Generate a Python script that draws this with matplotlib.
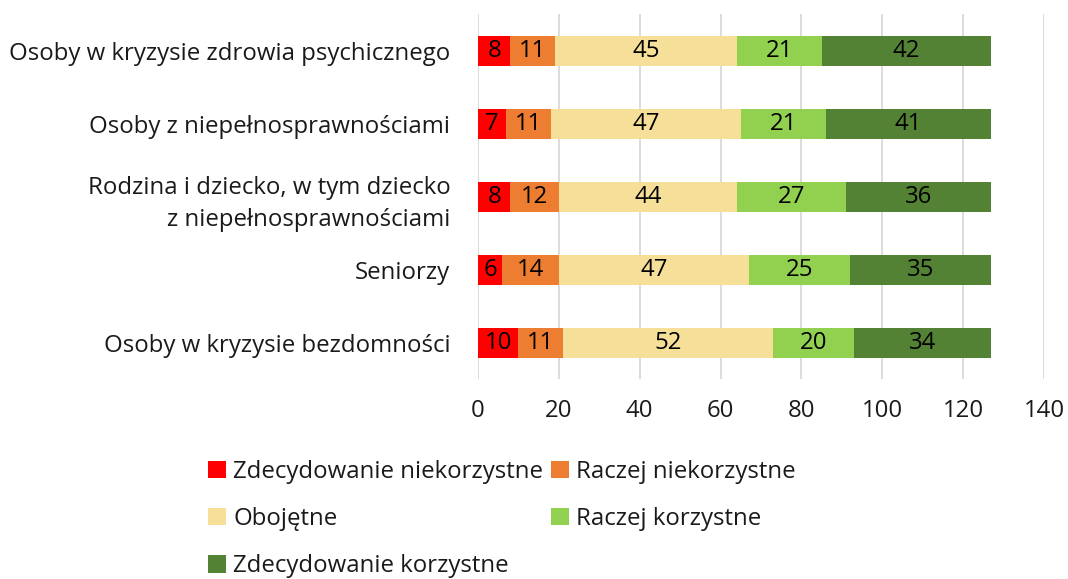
import matplotlib
matplotlib.use("Agg")
import matplotlib.pyplot as plt
from matplotlib.patches import Patch

categories = [
    "Osoby w kryzysie zdrowia psychicznego",
    "Osoby z niepełnosprawnościami",
    "Rodzina i dziecko, w tym dziecko\nz niepełnosprawnościami",
    "Seniorzy",
    "Osoby w kryzysie bezdomności",
]
series_names = [
    "Zdecydowanie niekorzystne",
    "Raczej niekorzystne",
    "Obojętne",
    "Raczej korzystne",
    "Zdecydowanie korzystne",
]
zdec_niekorz = [8, 7, 8, 6, 10]
raczej_niekorz = [11, 11, 12, 14, 11]
obojetne = [45, 47, 44, 47, 52]
raczej_korz = [21, 21, 27, 25, 20]
zdec_korz = [42, 41, 36, 35, 34]
xticks = [0, 20, 40, 60, 80, 100, 120, 140]

colors = ["#FF0000", "#ED7D31", "#F5DF99", "#92D050", "#548235"]
series = [zdec_niekorz, raczej_niekorz, obojetne, raczej_korz, zdec_korz]

FS = 17.3
plt.rcParams['font.family'] = ['Open Sans', 'DejaVu Sans']
fig = plt.figure(figsize=(10.68, 5.79), dpi=100)
ax = fig.add_axes([0.4476, 0.3446, 0.9775 - 0.4476, 0.975 - 0.3446])

y = list(range(len(categories)))
left = [0] * len(categories)
handles = []
for name, vals, col in zip(series_names, series, colors):
    bars = ax.barh(y, vals, left=left, height=0.41, color=col, zorder=3)
    for b, v in zip(bars, vals):
        ax.text(b.get_x() + b.get_width() / 2, b.get_y() + b.get_height() / 2,
                str(v), ha='center', va='center', fontsize=FS, color='black', zorder=4)
    left = [l + v for l, v in zip(left, vals)]
    handles.append(Patch(facecolor=col, label=name))

ax.set_ylim(len(categories) - 0.5, -0.5)
ax.set_xlim(0, 140)
ax.set_xticks(xticks)
ax.set_yticks(y)
ax.set_yticklabels(categories, fontsize=FS, ha='right', linespacing=1.45)
ax.tick_params(axis='both', length=0, labelsize=FS, colors='#1a1a1a')
ax.tick_params(axis='x', pad=14)
ax.tick_params(axis='y', pad=20)
for s in ax.spines.values():
    s.set_visible(False)
ax.grid(axis='x', color='#D9D9D9', linewidth=1.3, zorder=0)
ax.set_axisbelow(True)

order = [0, 2, 4, 1, 3]
leg = fig.legend([handles[i] for i in order], [series_names[i] for i in order],
                 ncol=2, loc='upper left', bbox_to_anchor=(0.195, 0.206),
                 frameon=False, fontsize=FS, handlelength=0.75, handleheight=0.75,
                 handletextpad=0.3, columnspacing=0.3, labelspacing=0.97,
                 borderaxespad=0, borderpad=0)
for t in leg.get_texts():
    t.set_color('#1a1a1a')

fig.savefig("out.png", dpi=100)
